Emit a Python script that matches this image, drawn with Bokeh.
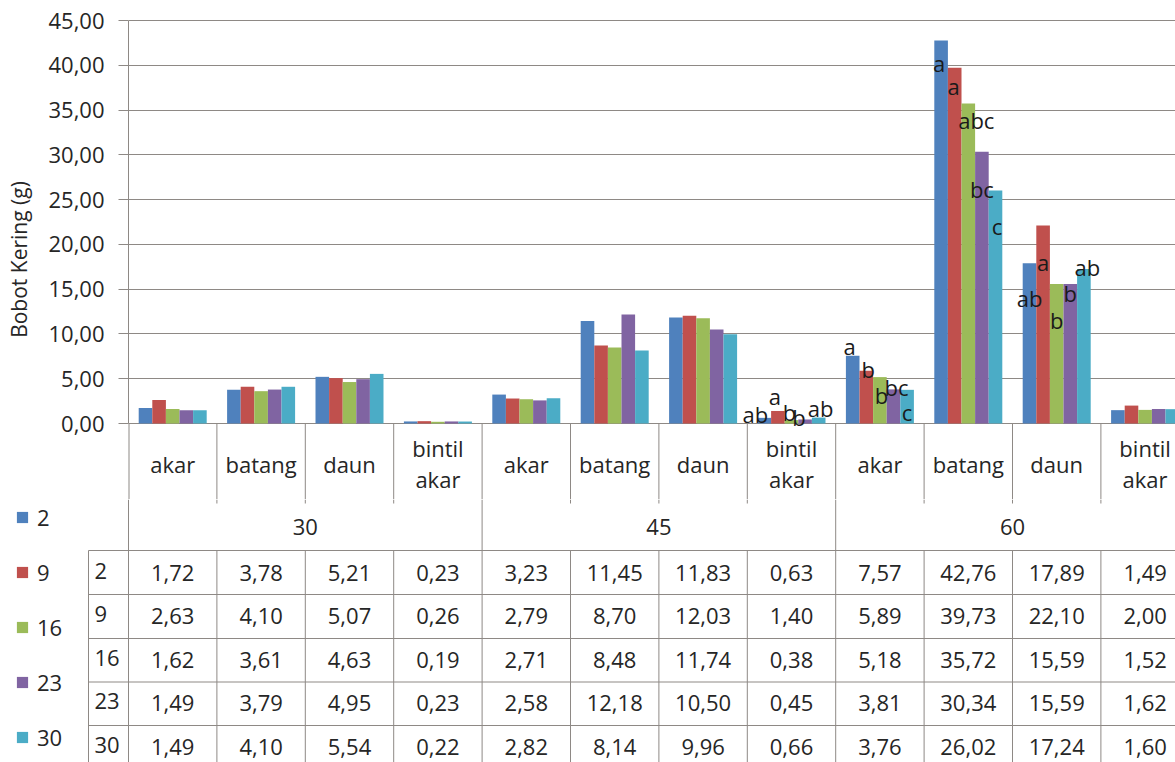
from bokeh.plotting import figure
from bokeh.models import Range1d, FixedTicker, Legend, LegendItem
from bokeh.embed import file_html
from bokeh.resources import INLINE
from bokeh.core.properties import value

# ---------------- data ----------------
GROUPS = ["30", "45", "60"]
PARTS = ["akar", "batang", "daun", "bintil\nakar"]
SERIES = ["2", "9", "16", "23", "30"]

V_2 = [1.72, 3.78, 5.21, 0.23, 3.23, 11.45, 11.83, 0.63, 7.57, 42.76, 17.89, 1.49]
V_9 = [2.63, 4.10, 5.07, 0.26, 2.79, 8.70, 12.03, 1.40, 5.89, 39.73, 22.10, 2.00]
V_16 = [1.62, 3.61, 4.63, 0.19, 2.71, 8.48, 11.74, 0.38, 5.18, 35.72, 15.59, 1.52]
V_23 = [1.49, 3.79, 4.95, 0.23, 2.58, 12.18, 10.50, 0.45, 3.81, 30.34, 15.59, 1.62]
V_30 = [1.49, 4.10, 5.54, 0.22, 2.82, 8.14, 9.96, 0.66, 3.76, 26.02, 17.24, 1.60]
VALUES = [V_2, V_9, V_16, V_23, V_30]

Y_TICKS = [0, 5, 10, 15, 20, 25, 30, 35, 40, 45]
Y_TICK_LABELS = ["0,00", "5,00", "10,00", "15,00", "20,00", "25,00",
                 "30,00", "35,00", "40,00", "45,00"]

# significance letters: category index -> letters per series
LETTERS = {
    7: ["ab", "a", "b", "b", "ab"],
    8: ["a", "b", "b", "bc", "c"],
    9: ["a", "a", "abc", "bc", "c"],
    10: ["ab", "a", "b", "b", "ab"],
}
# label placement (screen px offsets from bar top centre)
LETTER_OFFSETS = {
    7: [(-9, -4), (-3, -15), (-2, -8), (-6, -2), (2, -10)],
    8: [(-3, -10), (2, -2), (1.5, 18), (3, -2), (0, 22)],
    9: [(-2, 22), (-1, 18), (8, 16), (0, 37), (1.5, 36)],
    10: [(0, 35), (0, 36), (0, 36), (0, 9), (3.5, -2)],
}

# ---------------- style / layout ----------------
COLORS = ["#4F81BD", "#C0504D", "#9BBB59", "#8064A2", "#4BACC6"]
GRID = "#8E8985"
TXT = "#262626"
FONT = "Open Sans"
FS = "22px"

PAGE_W = 1175
PAGE_H = 762
LEFT_PX = 128          # left edge of the plotting area
CAT_PX = 88.4          # width of one category
ZERO_PX = 423          # pixel row of value 0
TOP_H = 499            # split between chart part and table part
TOP_BORDER = 19
Y_PX = 403.0 / 45.0    # pixels per gram

N_CAT = len(V_2)
FRAME_W = PAGE_W - LEFT_PX
XEND = FRAME_W / CAT_PX
BW = 13.6 / CAT_PX


def px_to_y(py):
    return (ZERO_PX - py) / Y_PX


y_end = 45 + 1.0 / Y_PX
y_start = px_to_y(TOP_H)

# ---------------- top chart ----------------
p1 = figure(width=PAGE_W, height=TOP_H,
            x_range=Range1d(0, XEND), y_range=Range1d(y_start, y_end),
            output_backend="svg", toolbar_location=None, x_axis_location=None,
            min_border_left=LEFT_PX, min_border_right=0,
            min_border_top=TOP_BORDER, min_border_bottom=0)
p1.outline_line_color = None
p1.xgrid.grid_line_color = None
p1.ygrid.ticker = FixedTicker(ticks=Y_TICKS)
p1.ygrid.grid_line_color = GRID
p1.ygrid.grid_line_width = 1

ax = p1.yaxis[0]
ax.ticker = FixedTicker(ticks=Y_TICKS)
ax.major_label_overrides = {t: l for t, l in zip(Y_TICKS, Y_TICK_LABELS)}
ax.bounds = (0, 45)
ax.axis_line_color = GRID
ax.major_tick_line_color = GRID
ax.major_tick_out = 10
ax.major_tick_in = 0
ax.minor_tick_line_color = None
ax.major_label_standoff = 14
ax.major_label_text_font = FONT
ax.major_label_text_font_size = FS
ax.major_label_text_color = TXT
ax.axis_label = "Bobot Kering (g)"
ax.axis_label_text_font = FONT
ax.axis_label_text_font_size = "21px"
ax.axis_label_text_font_style = "normal"
ax.axis_label_text_color = TXT
ax.axis_label_standoff = 12

for j, (vals, col) in enumerate(zip(VALUES, COLORS)):
    xs = [i + 0.5 + (j - 2) * BW for i in range(N_CAT)]
    p1.vbar(x=xs, top=vals, bottom=0, width=BW, fill_color=col, line_color=None)

# category separators below the zero line
sub = [i for i in range(1, N_CAT) if i % 4 != 0]
grp = [i for i in range(0, N_CAT) if i % 4 == 0]
p1.segment(x0=sub, y0=[0] * len(sub), x1=sub, y1=[y_start] * len(sub),
           line_color=GRID, line_width=1)
p1.segment(x0=grp, y0=[0] * len(grp), x1=grp, y1=[y_start] * len(grp),
           line_color=GRID, line_width=[2] + [1] * (len(grp) - 1))

# category labels
p1.text(x=[i + 0.5 for i in range(N_CAT)], y=[px_to_y(463)] * N_CAT,
        text=[PARTS[i % 4] for i in range(N_CAT)],
        text_align="center", text_baseline="middle", text_line_height=1.05,
        text_font=value(FONT), text_font_size=FS, text_color=TXT)

# significance letters
lx, ly, lt, ldx, ldy = [], [], [], [], []
for ci, lets in LETTERS.items():
    for j, s in enumerate(lets):
        lx.append(ci + 0.5 + (j - 2) * BW)
        ly.append(VALUES[j][ci])
        lt.append(s)
        ldx.append(LETTER_OFFSETS[ci][j][0])
        ldy.append(LETTER_OFFSETS[ci][j][1])
p1.text(x=lx, y=ly, text=lt, x_offset=ldx, y_offset=ldy,
        text_align="center", text_baseline="alphabetic",
        text_font=value(FONT), text_font_size="22px", text_color="#1A1A1A")

# ---------------- data table ----------------
BOT_H = PAGE_H - TOP_H
XH = (88 - LEFT_PX) / CAT_PX
p2 = figure(width=PAGE_W, height=BOT_H,
            x_range=Range1d(-LEFT_PX / CAT_PX, XEND), y_range=Range1d(PAGE_H, TOP_H),
            output_backend="svg", toolbar_location=None,
            x_axis_location=None, y_axis_location=None,
            min_border_left=0, min_border_right=0, min_border_top=0, min_border_bottom=0)
p2.outline_line_color = None
p2.grid.visible = False

p2.segment(x0=sub, y0=[TOP_H] * len(sub), x1=sub, y1=[503] * len(sub), line_color=GRID)
p2.segment(x0=grp, y0=[TOP_H] * len(grp), x1=grp, y1=[PAGE_H] * len(grp), line_color=GRID)
p2.segment(x0=sub, y0=[550] * len(sub), x1=sub, y1=[PAGE_H] * len(sub), line_color=GRID)
p2.segment(x0=[XH], y0=[550], x1=[XH], y1=[PAGE_H], line_color=GRID)
rows_y = [550, 594, 638, 681.5, 725]
p2.segment(x0=[XH] * len(rows_y), y0=rows_y, x1=[XEND] * len(rows_y), y1=rows_y,
           line_color=GRID)

p2.text(x=[4 * g + 2 for g in range(len(GROUPS))], y=[526] * len(GROUPS), text=GROUPS,
        text_align="center", text_baseline="middle",
        text_font=value(FONT), text_font_size=FS, text_color=TXT)

tx, ty, tt = [], [], []
for r, vals in enumerate(VALUES):
    for i, v in enumerate(vals):
        tx.append(i + 0.5)
        ty.append(572 + r * 43.5)
        tt.append(f"{v:.2f}".replace(".", ","))
p2.text(x=tx, y=ty, text=tt, text_align="center", text_baseline="middle",
        text_font=value(FONT), text_font_size=FS, text_color=TXT)
p2.text(x=[(94 - LEFT_PX) / CAT_PX] * len(SERIES),
        y=[570 + r * 43.5 for r in range(len(SERIES))],
        text=SERIES, text_align="left", text_baseline="middle",
        text_font=value(FONT), text_font_size=FS, text_color=TXT)

items = []
nan = float("nan")
for name, col in zip(SERIES, COLORS):
    r = p2.scatter(x=[nan], y=[nan], marker="square", size=12,
                   fill_color=col, line_color=None)
    items.append(LegendItem(label=name, renderers=[r]))
legend = Legend(items=items, location=(8, 9), orientation="vertical",
                glyph_width=28, glyph_height=32, label_height=32, spacing=23,
                padding=0, margin=0, label_standoff=1,
                border_line_color=None, background_fill_alpha=0,
                label_text_font=FONT, label_text_font_size=FS, label_text_color=TXT)
p2.add_layout(legend)

open("out.html", "w").write(file_html([p1, p2], INLINE))
